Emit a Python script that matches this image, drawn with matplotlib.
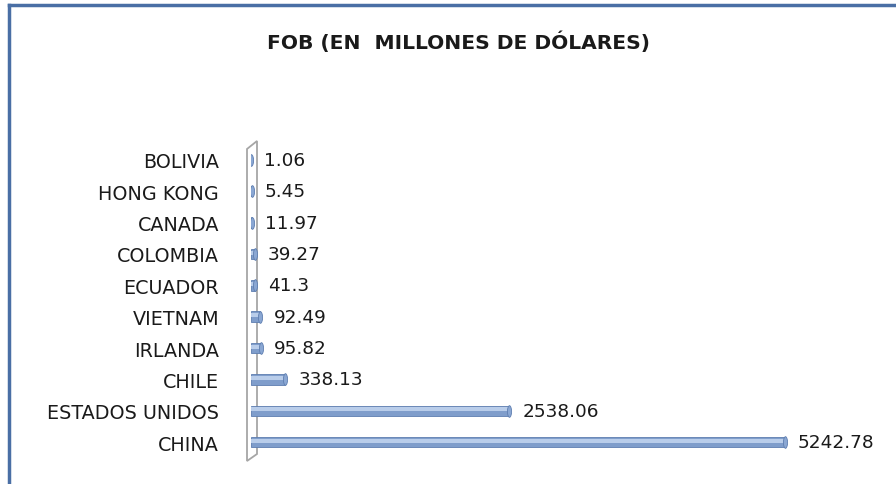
import matplotlib.pyplot as plt
from matplotlib.patches import Polygon
from matplotlib.lines import Line2D
from matplotlib.path import Path
from matplotlib.transforms import Affine2D

# data, bottom to top as drawn
countries = ['CHINA', 'ESTADOS UNIDOS', 'CHILE', 'IRLANDA', 'VIETNAM',
             'ECUADOR', 'COLOMBIA', 'CANADA', 'HONG KONG', 'BOLIVIA']
fob = [5242.78, 2538.06, 338.13, 95.82, 92.49, 41.3, 39.27, 11.97, 5.45, 1.06]
fob_labels = ['5242.78', '2538.06', '338.13', '95.82', '92.49',
              '41.3', '39.27', '11.97', '5.45', '1.06']
title = 'FOB (EN  MILLONES DE DÓLARES)'

W, H = 896, 485
fig = plt.figure(figsize=(W / 100, H / 100), dpi=100)
plt.rcParams['font.family'] = ['DejaVu Sans']

def fx(px):
    return px / W

def fy(py):
    return 1 - py / H

# chart border (only top and left edges visible)
border = '#4A6FA5'
fig.add_artist(Line2D([fx(9), 1], [fy(6), fy(6)], color=border, lw=2.5, transform=fig.transFigure))
fig.add_artist(Line2D([fx(9), fx(9)], [fy(6), 0], color=border, lw=2.5, transform=fig.transFigure))

# 3d wall behind bars
wall_px = [(247, 150), (257, 142), (257, 455), (247, 462)]
wall = Polygon([(fx(x), fy(y)) for x, y in wall_px], closed=True, facecolor='white',
               edgecolor='#A6A6A6', lw=1.3, transform=fig.transFigure, zorder=1)
fig.add_artist(wall)

ax = fig.add_axes([fx(251), fy(458.7), fx(862) - fx(251), fy(145.3) - fy(458.7)])
ax.patch.set_alpha(0)
ax.set_zorder(2)
ypos = list(range(len(countries)))

ax.barh(ypos, fob, height=0.33, color='#7F9DCB', edgecolor='#5E7EB0', lw=0.6)
ax.barh([y + 0.04 for y in ypos], fob, height=0.13, color='#B9CDEA', lw=0)

# cylinder end caps
cap = Path.unit_circle().transformed(Affine2D().scale(0.35, 1.0))
ax.scatter(fob, ypos, marker=cap, s=70, color='#8AA7D3', edgecolors='#5E7EB0',
           linewidths=0.6, zorder=3)

for y, v, lab in zip(ypos, fob, fob_labels):
    ax.annotate(lab, (v, y), xytext=(13, 0), textcoords='offset pixels',
                va='center', ha='left', fontsize=13.3, color='#1a1a1a')

ax.set_xlim(0, 6000)
ax.set_ylim(-0.5, 9.5)
ax.set_xticks([])
ax.set_yticks(ypos)
ax.set_yticklabels(countries, fontsize=13.8, color='#1a1a1a')
ax.tick_params(axis='y', length=0, pad=23)
for s in ax.spines.values():
    s.set_visible(False)

fig.text(fx(458), fy(42), title, ha='center', va='center', fontsize=14.6,
         fontweight='bold', color='#1a1a1a')

plt.savefig('out.png', dpi=100)
